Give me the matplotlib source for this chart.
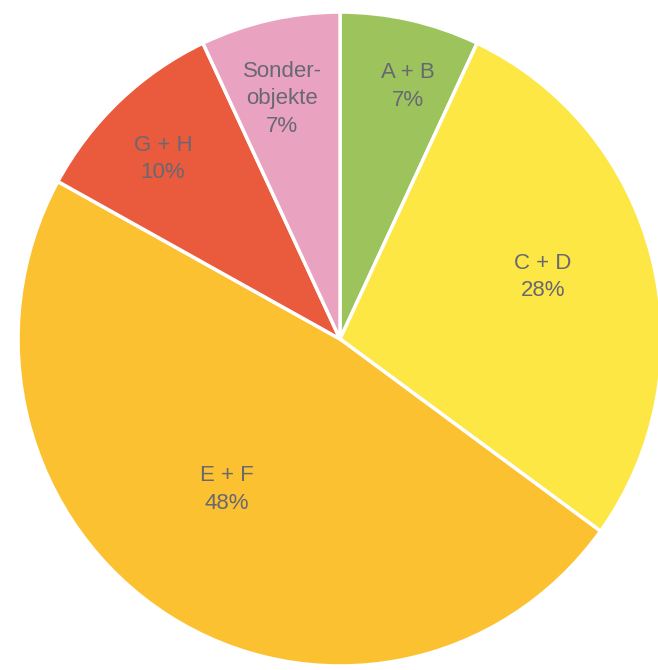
import numpy as np
from matplotlib import pyplot as plt

etichette = ["A + B", "C + D", "E + F", "G + H", "Sonder-\nobjekte"]
percentuali = [7, 28, 48, 10, 7]
colori = ["#9dc45c", "#fde744", "#fcc131", "#ea5a3c", "#e9a2bf"]

# posizioni delle etichette (coordinate dati della torta)
pos_etichette = [(0.211, 0.772), (0.630, 0.190), (-0.351, -0.460),
                 (-0.550, 0.550), (-0.180, 0.735)]

fig = plt.figure(figsize=(6.58, 6.70), dpi=100)
ax = fig.add_axes([0.0274, 0.006, 0.9787, 0.976])

ax.pie(percentuali, colors=colori, startangle=90, counterclock=False,
       radius=1.0, wedgeprops=dict(edgecolor="white", linewidth=2.5))
ax.set_xlim(-1, 1)
ax.set_ylim(-1, 1)
ax.set_aspect("auto")
ax.axis("off")

for testo, p, (x, y) in zip(etichette, percentuali, pos_etichette):
    ax.text(x, y, f"{testo}\n{p}%", ha="center", va="center",
            fontsize=16, color="#686872", family="Liberation Sans",
            linespacing=1.4)

fig.savefig("out.png", dpi=100)
